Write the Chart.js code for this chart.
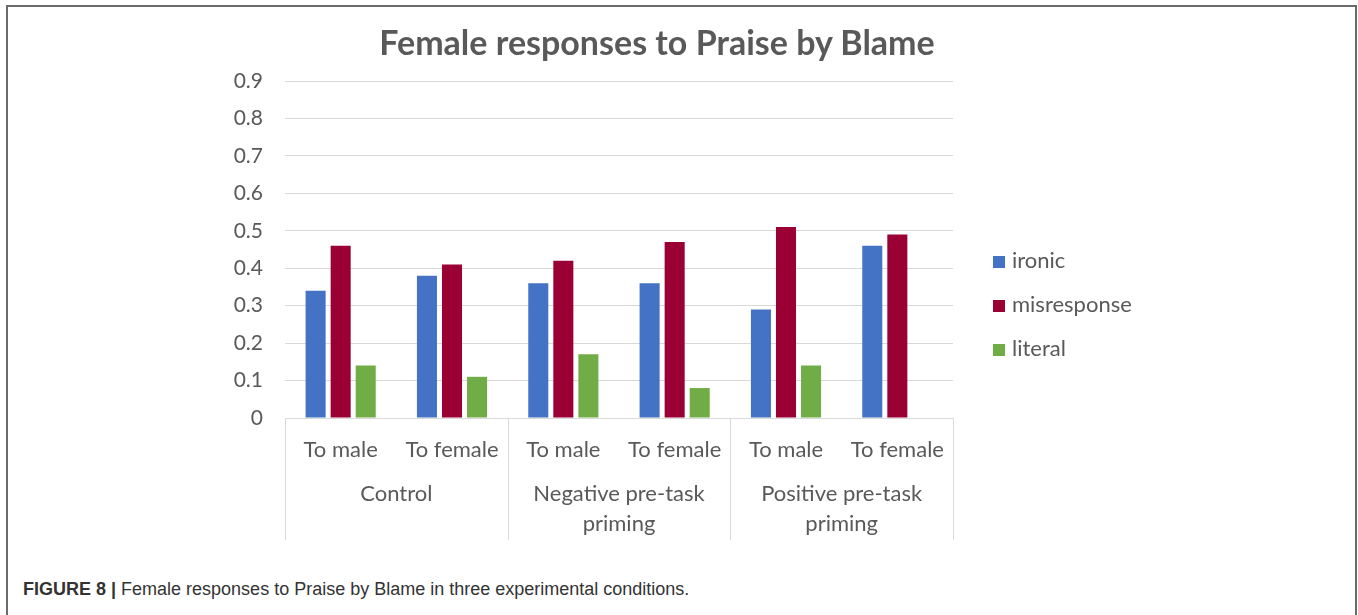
<!DOCTYPE html>
<html>
<head>
<meta charset="utf-8">
<script src="https://cdn.jsdelivr.net/npm/chart.js@4.4.1/dist/chart.umd.min.js"></script>
<style>
  html, body { margin: 0; padding: 0; background: #fff; }
  #page { position: relative; width: 1358px; height: 615px; overflow: hidden; }
  #frame { position: absolute; left: 6px; top: 5px; width: 1347px; height: 700px; border: 2px solid #6b6b6b; }
  #box { position: absolute; left: 0; top: 0; width: 1312px; height: 560px; }
  #title { position: absolute; left: 357px; width: 600px; top: 20px; text-align: center; font-family: Lato, sans-serif; font-weight: bold; font-size: 34px; line-height: 44px; color: #595959; white-space: nowrap; }
  #legend { position: absolute; left: 993px; top: 244px; font-family: Lato, sans-serif; font-size: 22px; color: #595959; }
  #legend div { height: 44px; line-height: 32px; white-space: nowrap; }
  #legend span { display: inline-block; width: 12px; height: 12px; margin-right: 7px; vertical-align: 0px; }
  #caption { position: absolute; left: 23px; top: 579px; font-family: "Liberation Sans", Arial, sans-serif; font-size: 18px; line-height: 20px; color: #333; white-space: nowrap; }
</style>
</head>
<body>
<div id="page">
  <div id="frame"></div>
  <div id="box"><canvas id="chart"></canvas></div>
  <div id="title">Female responses to Praise by Blame</div>
  <div id="legend"></div>
  <div id="caption"><b>FIGURE 8 |</b> Female responses to Praise by Blame in three experimental conditions.</div>
</div>
<script>
// data
var subLabels = ['To male', 'To female', 'To male', 'To female', 'To male', 'To female'];
var groupLabels = [['Control'], ['Negative pre-task', 'priming'], ['Positive pre-task', 'priming']];
var ironic = [0.34, 0.38, 0.36, 0.36, 0.29, 0.46];
var misresponse = [0.46, 0.41, 0.42, 0.47, 0.51, 0.49];
var literal = [0.14, 0.11, 0.17, 0.08, 0.14, 0];
var yTicks = [0, 0.1, 0.2, 0.3, 0.4, 0.5, 0.6, 0.7, 0.8, 0.9];

var textColor = '#595959';
var lineColor = '#d9d9d9';

var datasets = [
    { label: 'ironic', data: ironic, backgroundColor: '#4472c4' },
    { label: 'misresponse', data: misresponse, backgroundColor: '#9b0034' },
    { label: 'literal', data: literal, backgroundColor: '#70ad47' }
];

/* group labels and separators under the x axis */
var groupAxis = {
    id: 'groupAxis',
    afterDraw: function(chart) {
        var ctx = chart.ctx;
        var x = chart.scales.x;
        var top = chart.chartArea.bottom;
        var bottom = top + 122;
        var edges = [x.left];
        for (var i = 1; i < subLabels.length; i += 2) {
            if (i + 1 < subLabels.length) {
                edges.push((x.getPixelForValue(i) + x.getPixelForValue(i + 1)) / 2);
            }
        }
        edges.push(x.right);

        ctx.save();
        ctx.strokeStyle = lineColor;
        ctx.lineWidth = 1;
        edges.forEach(function(e) {
            var px = Math.round(e) + 0.5;
            ctx.beginPath();
            ctx.moveTo(px, top);
            ctx.lineTo(px, bottom);
            ctx.stroke();
        });

        ctx.fillStyle = textColor;
        ctx.font = '22px Lato';
        ctx.textAlign = 'center';
        ctx.textBaseline = 'middle';
        groupLabels.forEach(function(lines, g) {
            var cx = (x.getPixelForValue(2 * g) + x.getPixelForValue(2 * g + 1)) / 2;
            lines.forEach(function(t, k) {
                ctx.fillText(t, cx, top + 76 + k * 30);
            });
        });
        ctx.restore();
    }
};

var ctx = document.getElementById('chart').getContext('2d');
var chart = new Chart(ctx, {
    type: 'bar',
    data: { labels: subLabels, datasets: datasets },
    plugins: [groupAxis],
    options: {
        responsive: true,
        maintainAspectRatio: false,
        animation: false,
        layout: { padding: { left: 205, right: 359, bottom: 20, top: 81 } },
        datasets: { bar: { categoryPercentage: 0.675, barPercentage: 0.8, borderWidth: 0 } },
        plugins: {
            legend: { display: false },
            tooltip: { enabled: false },
            title: { display: false }
        },
        scales: {
            x: {
                grid: { display: false, drawTicks: false },
                border: { display: false },
                ticks: { color: textColor, font: { family: 'Lato', size: 22 }, padding: 19, maxRotation: 0 },
                afterFit: function(s) { s.height = 122; }
            },
            y: {
                min: 0,
                max: 0.9,
                afterBuildTicks: function(s) { s.ticks = yTicks.map(function(v) { return { value: v }; }); },
                grid: { color: lineColor, drawTicks: false },
                border: { display: false },
                ticks: { color: textColor, font: { family: 'Lato', size: 21 }, padding: 22 },
                afterFit: function(s) { s.width = 80; }
            }
        }
    }
});

// legend built from the datasets
var legend = document.getElementById('legend');
datasets.forEach(function(d) {
    var row = document.createElement('div');
    row.innerHTML = '<span style="background:' + d.backgroundColor + '"></span>' + d.label;
    legend.appendChild(row);
});
</script>
</body>
</html>
